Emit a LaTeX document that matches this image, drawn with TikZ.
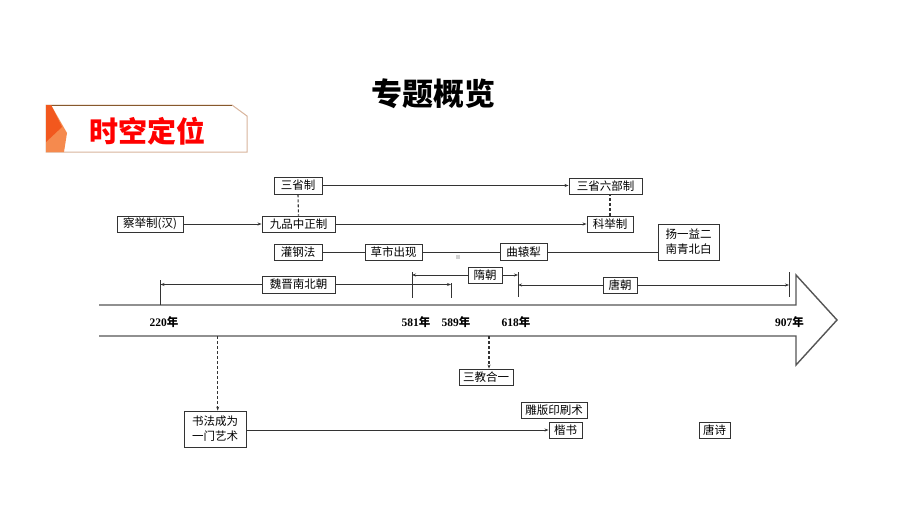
\documentclass[tikz,border=0pt]{standalone}
\usepackage{fontspec}
\newfontfamily\cjk{Noto Sans CJK SC}
\newfontfamily\yrfont{Liberation Serif}
\usetikzlibrary{arrows.meta}
\definecolor{boxline}{HTML}{333333}
\definecolor{shaft}{HTML}{555555}
\definecolor{bannerline}{HTML}{D8B49C}
\definecolor{orangeA}{HTML}{F58A4E}
\definecolor{orangeB}{HTML}{F2581E}
\tikzset{
  ev/.style={draw=boxline, line width=0.9pt, inner sep=0pt, fill=white,
    font=\cjk\fontsize{11.5}{14}\selectfont, text=black, align=center},
  conn/.style={draw=boxline, line width=0.9pt},
  arr/.style={conn, -{Stealth[length=4pt,width=3pt]}},
  tick/.style={draw=boxline, line width=0.9pt},
  dsh/.style={draw=boxline, line width=1.1pt, dash pattern=on 3pt off 2pt},
  yr/.style={font=\yrfont\bfseries\fontsize{11.5}{13}\selectfont, inner sep=0pt}
}
\begin{document}
\begin{tikzpicture}[x=1pt,y=-1pt]
\useasboundingbox (0,0) rectangle (920,519);
% title
\node[font=\cjk\bfseries\fontsize{31}{34}\selectfont] (title) at (433.5,94) {专题概览};
% banner
\draw[bannerline, line width=1pt, fill=white] (46,105) -- (232,105) -- (247,116) -- (247,152) -- (46,152) -- cycle;
\draw[brown!70!black, line width=0.8pt] (46,105) -- (232,105);
\fill[orangeA] (46,105) -- (51,105) -- (67,133) -- (64,152) -- (46,152) -- cycle;
\fill[orangeB] (46,105) -- (51,105) -- (62,127) -- (46,142) -- cycle;
\node[font=\cjk\bfseries\fontsize{29}{32}\selectfont, text=red] (banner) at (147,131) {时空定位};
% big arrow
\draw[shaft, line width=1.4pt, line join=miter] (99,305) -- (796,305) -- (796,275) -- (837,320) -- (796,365) -- (796,336) -- (99,336);
% year labels
\node[yr] (y220) at (164,322) {220{\cjk 年}};
\node[yr] (y581) at (416,322) {581{\cjk 年}};
\node[yr] (y589) at (456,322) {589{\cjk 年}};
\node[yr] (y618) at (516,322) {618{\cjk 年}};
\node[yr] (y907) at (789.5,322) {907{\cjk 年}};
% ticks
\coordinate (t220a) at (160.5,280); \coordinate (t220b) at (160.5,305);
\coordinate (t581a) at (412,272); \coordinate (t581b) at (412,298);
\coordinate (t589a) at (451,283); \coordinate (t589b) at (451,298);
\coordinate (t618a) at (518,272); \coordinate (t618b) at (518,297);
\coordinate (t907a) at (789,272); \coordinate (t907b) at (789,297);
\draw[tick] (t220a) -- (t220b);
\draw[tick] (t581a) -- (t581b);
\draw[tick] (t589a) -- (t589b);
\draw[tick] (t618a) -- (t618b);
\draw[tick] (t907a) -- (t907b);
% nodes
\node[ev, minimum width=48pt, minimum height=17pt] (sansheng) at (298,185.5) {三省制};
\node[ev, minimum width=73pt, minimum height=16pt] (jiupin) at (298.5,224) {九品中正制};
\node[ev, minimum width=66pt, minimum height=16pt] (chaju) at (150,224) {察举制(汉)};
\node[ev, minimum width=73pt, minimum height=16pt] (sansl) at (605.5,186) {三省六部制};
\node[ev, minimum width=46pt, minimum height=16pt] (keju) at (610,224) {科举制};
\node[ev, minimum width=48pt, minimum height=16pt] (guangang) at (298,252) {灌钢法};
\node[ev, minimum width=57pt, minimum height=16pt] (caoshi) at (393.5,252) {草市出现};
\node[ev, minimum width=47pt, minimum height=17pt] (quyuan) at (523.5,252) {曲辕犁};
\node[ev, minimum width=61pt, minimum height=36pt, font=\cjk\fontsize{11.5}{15}\selectfont] (yangyi) at (688.5,242) {扬一益二\\南青北白};
\node[ev, minimum width=73pt, minimum height=17pt] (weijin) at (298.5,284.5) {魏晋南北朝};
\node[ev, minimum width=34pt, minimum height=16pt] (sui) at (485,275) {隋朝};
\node[ev, minimum width=34pt, minimum height=16pt] (tang) at (620,285) {唐朝};
\node[ev, minimum width=62pt, minimum height=36pt, font=\cjk\fontsize{11.5}{15}\selectfont] (shufa) at (215,429) {书法成为\\一门艺术};
\node[ev, minimum width=33pt, minimum height=16pt] (kaishu) at (565.5,430) {楷书};
\node[ev, minimum width=66pt, minimum height=16pt] (diaoban) at (554,410) {雕版印刷术};
\node[ev, minimum width=31pt, minimum height=16pt] (tangshi) at (714.5,430) {唐诗};
\node[ev, minimum width=54pt, minimum height=16pt] (sanjiao) at (486,377) {三教合一};
% top connectors
\draw[arr] (sansheng.east) -- (sansl.west |- sansheng.east);
\draw[arr] (chaju.east) -- (jiupin.west);
\draw[arr] (jiupin.east) -- (keju.west |- jiupin.east);
\draw[dsh] (sansheng.south) -- (jiupin.north);
\draw[dsh] (keju.north) -- (keju.north |- sansl.south);
\draw[conn] (guangang.east) -- (caoshi.west);
\draw[conn] (caoshi.east) -- (quyuan.west);
\draw[conn] (quyuan.east) -- (yangyi.west |- quyuan.east);
% period brackets
\draw[arr] (weijin.west) -- (weijin.west -| t220a);
\draw[arr] (weijin.east) -- (weijin.east -| t589a);
\draw[arr] (sui.west) -- (sui.west -| t581a);
\draw[arr] (sui.east) -- (sui.east -| t618a);
\draw[arr] (tang.west) -- (tang.west -| t618a);
\draw[arr] (tang.east) -- (tang.east -| t907a);
% bottom connectors
\coordinate (d1) at (217.7,336);
\coordinate (d2) at (489,336);
\draw[dsh, -{Stealth[length=4pt,width=3pt]}] (d1) -- (d1 |- shufa.north);
\draw[dsh, -{Stealth[length=4pt,width=3pt]}] (d2) -- (d2 |- sanjiao.north);
\draw[arr] (kaishu.west -| shufa.east) -- (kaishu.west);
% small grey mark
\fill[gray!35] (456,255) rectangle (460,259);
\end{tikzpicture}
\end{document}
